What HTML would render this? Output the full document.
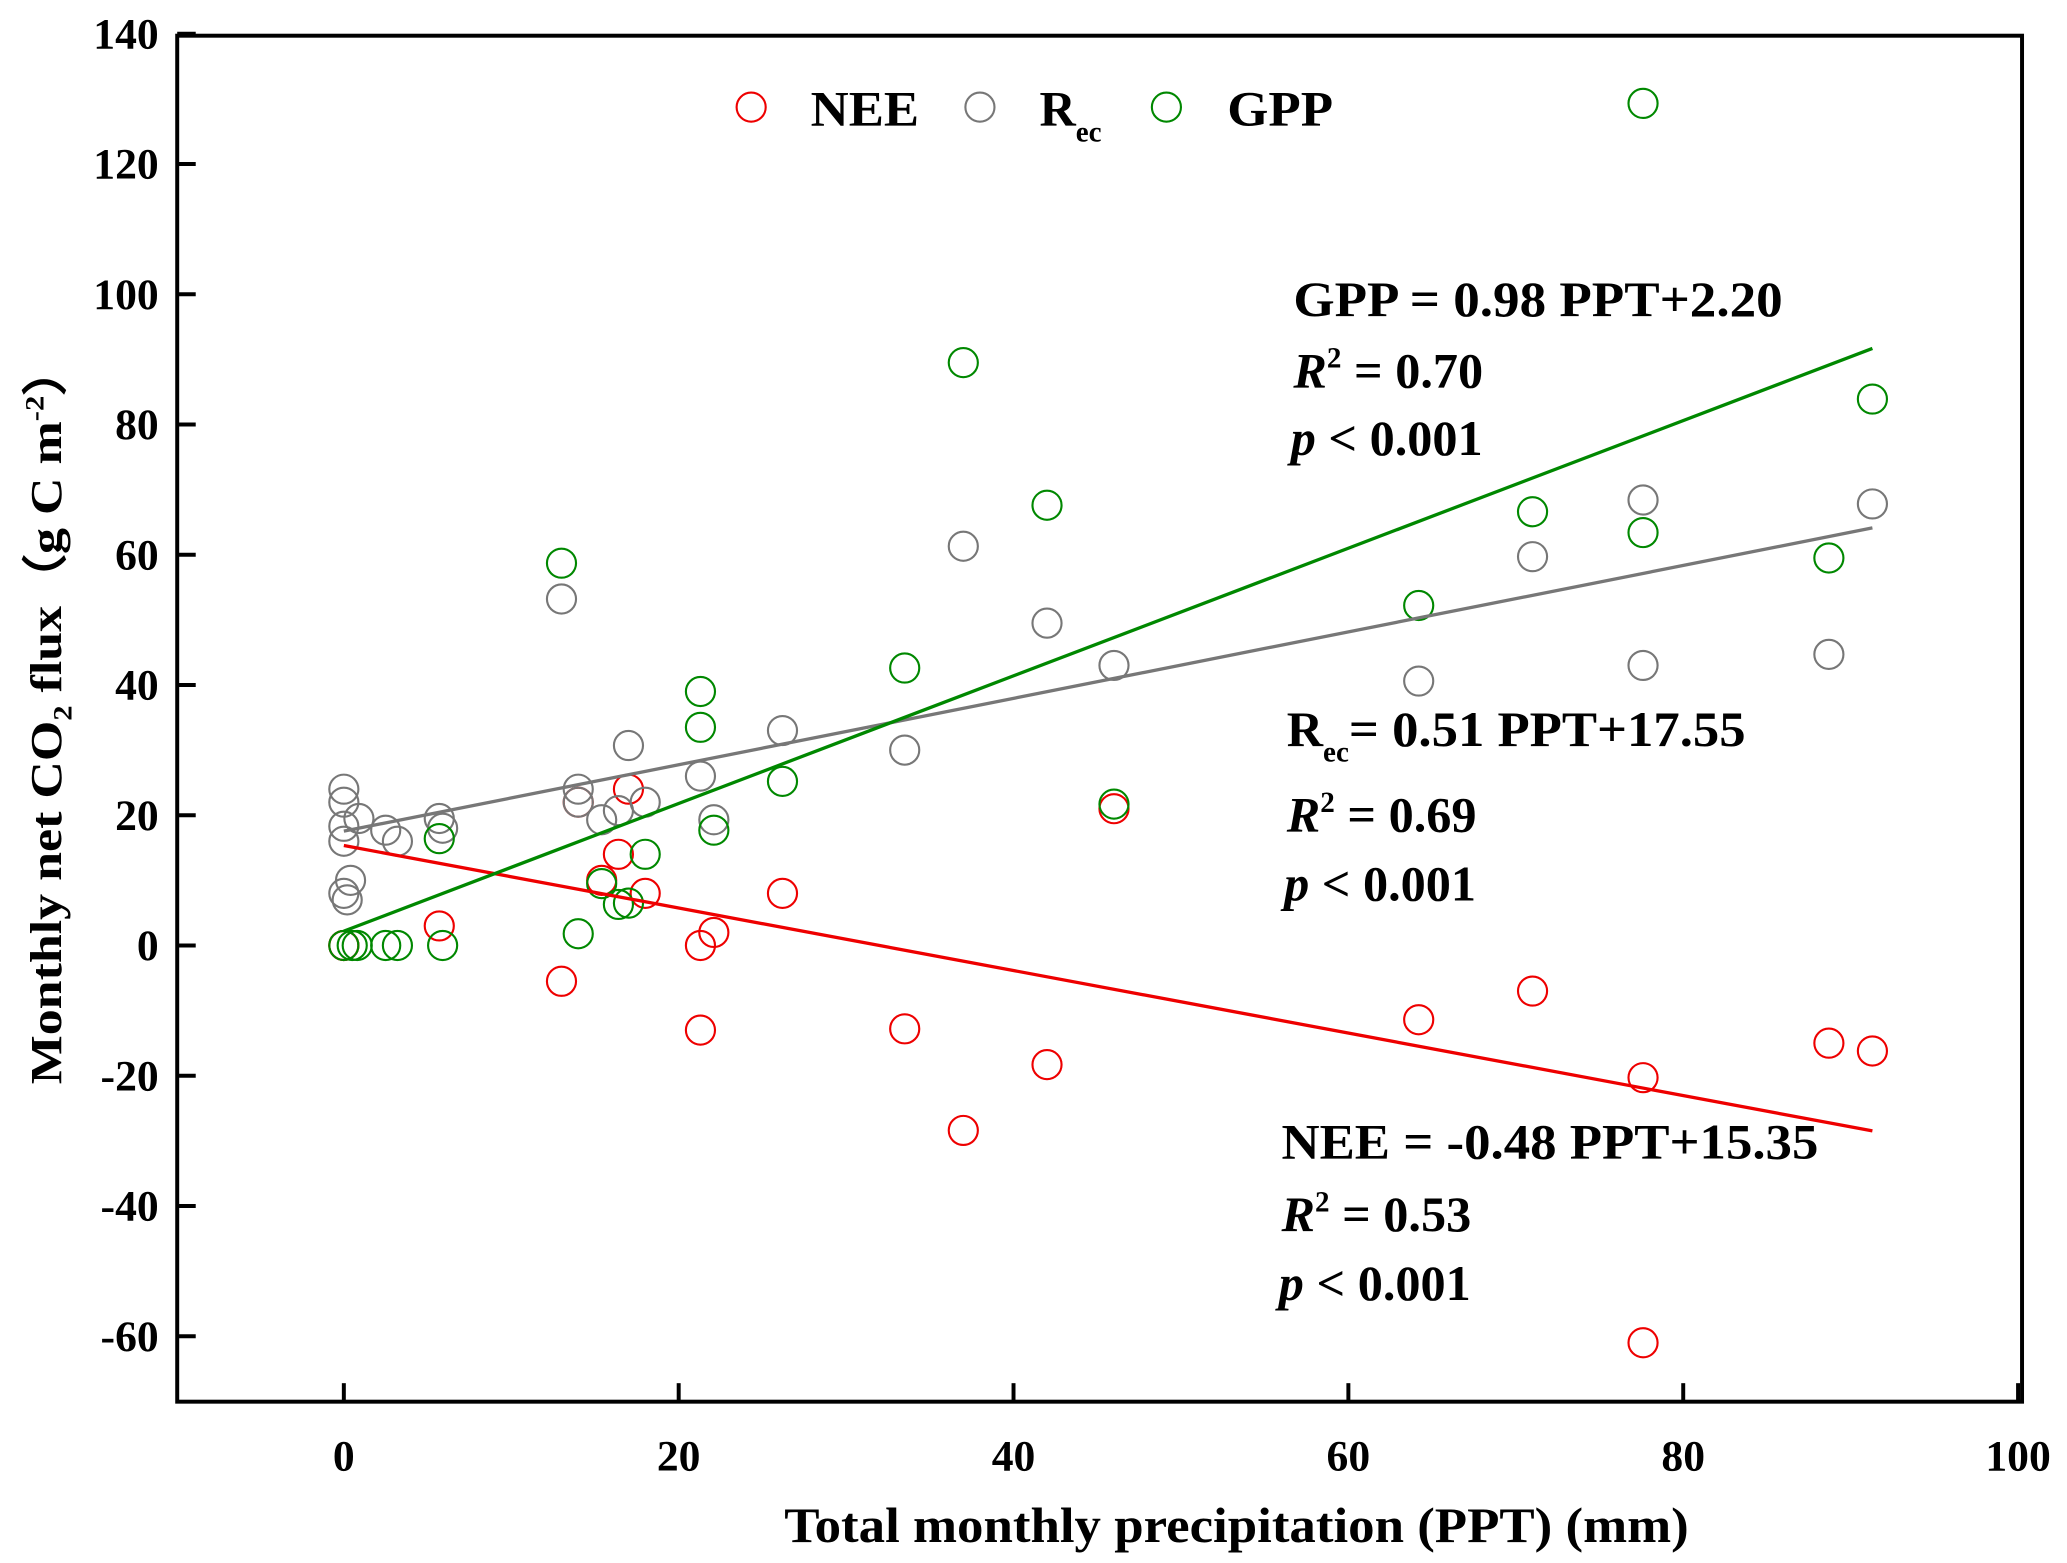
<!DOCTYPE html>
<html><head><meta charset="utf-8"><style>
html,body{margin:0;padding:0;background:#fff;}
svg{display:block;font-family:"Liberation Serif",serif;font-weight:bold;}
</style></head><body>
<svg id="chart" width="2067" height="1563" viewBox="0 0 1563 1182" preserveAspectRatio="none" xmlns="http://www.w3.org/2000/svg">
<rect x="0" y="0" width="1563" height="1182" fill="#fff"/>
<g id="marks"></g>
<rect x="134" y="27" width="1395" height="1033" fill="none" stroke="#000" stroke-width="3"/>
<g id="axes"></g>
<g font-size="38">
<circle cx="568" cy="81" r="11" fill="none" stroke="#e00" stroke-width="1.6"/>
<text x="613" y="95" textLength="82" lengthAdjust="spacingAndGlyphs">NEE</text>
<circle cx="741" cy="81" r="11" fill="none" stroke="#777" stroke-width="1.6"/>
<text x="786" y="95">R<tspan font-size="22" dy="12">ec</tspan></text>
<circle cx="882" cy="81" r="11" fill="none" stroke="#080" stroke-width="1.6"/>
<text x="928" y="95" textLength="80" lengthAdjust="spacingAndGlyphs">GPP</text>
</g>
<g font-size="38">
<text x="978" y="239" textLength="370" lengthAdjust="spacingAndGlyphs">GPP = 0.98 PPT+2.20</text>
<text x="978" y="293"><tspan font-style="italic">R</tspan><tspan font-size="22" dy="-15">2</tspan><tspan dy="15"> = 0.70</tspan></text>
<text x="976" y="344"><tspan font-style="italic">p</tspan> &lt; 0.001</text>
</g>
<g font-size="38">
<text x="973" y="564">R<tspan font-size="22" dy="12">ec</tspan><tspan dy="-12" textLength="300" lengthAdjust="spacingAndGlyphs">= 0.51 PPT+17.55</tspan></text>
<text x="973" y="629"><tspan font-style="italic">R</tspan><tspan font-size="22" dy="-15">2</tspan><tspan dy="15"> = 0.69</tspan></text>
<text x="971" y="681"><tspan font-style="italic">p</tspan> &lt; 0.001</text>
</g>
<g font-size="38">
<text x="969" y="876" textLength="406" lengthAdjust="spacingAndGlyphs">NEE = -0.48 PPT+15.35</text>
<text x="969" y="931"><tspan font-style="italic">R</tspan><tspan font-size="22" dy="-15">2</tspan><tspan dy="15"> = 0.53</tspan></text>
<text x="967" y="983"><tspan font-style="italic">p</tspan> &lt; 0.001</text>
</g>
<text x="935" y="1166" font-size="38" text-anchor="middle" textLength="684" lengthAdjust="spacingAndGlyphs">Total monthly precipitation (PPT) (mm)</text>
<text transform="translate(46,540) rotate(-90)" font-size="34" text-anchor="middle" textLength="560" lengthAdjust="spacingAndGlyphs">Monthly net  CO<tspan font-size="20" dy="8">2</tspan><tspan dy="-8"> flux（g C m</tspan><tspan font-size="20" dy="-13">-2</tspan><tspan dy="13">）</tspan></text>
</svg>
<script>
const xTicks=[0,20,40,60,80,100];
const yTicks=[-60,-40,-20,0,20,40,60,80,100,120,140];
const neeX=[0,0,5.7,13,14,15.4,16.4,17,18,21.3,21.3,22.1,26.2,33.5,37,42,46,64.2,71,77.6,77.6,88.7,91.3];
const neeY=[0,0,3,-5.5,22,10,14,24,8,0,-13,2,8,-12.8,-28.4,-18.3,21,-11.4,-7,-20.3,-61,-15,-16.2];
const recX=[0,0,0,0,0.4,0.2,0,0.9,2.5,3.2,5.7,5.9,13,14,14,15.4,16.4,17,18,21.3,22.1,26.2,33.5,37,42,46,64.2,71,77.6,77.6,88.7,91.3];
const recY=[24,22,18.3,16,10,7,8,19.5,17.7,16,19.5,18,53.2,24,22,19.3,20.7,30.7,22,26,19.3,33,30,61.3,49.5,43,40.6,59.7,68.4,43,44.7,67.8];
const gppX=[0,0.5,0.8,2.5,3.2,5.7,5.9,13,14,15.4,16.4,17,18,21.3,21.3,22.1,26.2,33.5,37,42,46,64.2,71,77.6,77.6,88.7,91.3];
const gppY=[0,0,0,0,0,16.4,0,58.7,1.8,9.5,6.3,6.5,14,39,33.5,17.7,25.2,42.6,89.5,67.6,21.7,52.2,66.6,63.4,129.3,59.5,83.9];
const fits=[{name:'nee',slope:-0.48,icpt:15.35,color:'#e00'},{name:'rec',slope:0.51,icpt:17.55,color:'#777'},{name:'gpp',slope:0.98,icpt:2.20,color:'#080'}];
const fitRange=[0,91.3];
const X=v=>260+v*12.66, Y=v=>715-v*4.925;
const NS='http://www.w3.org/2000/svg';
const marks=document.getElementById('marks'), axes=document.getElementById('axes');
function mk(tag,attrs,parent){const e=document.createElementNS(NS,tag);for(const k in attrs)e.setAttribute(k,attrs[k]);parent.appendChild(e);return e;}
xTicks.forEach(t=>{
  const l=mk('line',{x1:X(t),x2:X(t),y1:1060,y2:1046,stroke:'#000','stroke-width':3},axes);
  
  
  const tx=mk('text',{x:X(t),y:1112,'font-size':33,'text-anchor':'middle'},axes);tx.textContent=t;
  
  
});
yTicks.forEach(t=>{
  const l=mk('line',{x1:134,x2:148,y1:Y(t),y2:Y(t),stroke:'#000','stroke-width':3},axes);
  
  
  const tx=mk('text',{x:120,y:Y(t)+11,'font-size':33,'text-anchor':'end'},axes);tx.textContent=t;
  
  
});
function pts(xs,ys,color,name){xs.forEach((x,i)=>{
  const c=mk('circle',{cx:X(x),cy:Y(ys[i]),r:11,fill:'none',stroke:color,'stroke-width':1.6},marks);
  
  
});}
pts(neeX,neeY,'#e00','nee');
pts(recX,recY,'#777','rec');
pts(gppX,gppY,'#080','gpp');
fits.forEach(f=>{
  const l=mk('line',{x1:X(fitRange[0]),y1:Y(f.icpt+f.slope*fitRange[0]),x2:X(fitRange[1]),y2:Y(f.icpt+f.slope*fitRange[1]),stroke:f.color,'stroke-width':2.5},marks);
  
  
});
</script>
</body></html>
